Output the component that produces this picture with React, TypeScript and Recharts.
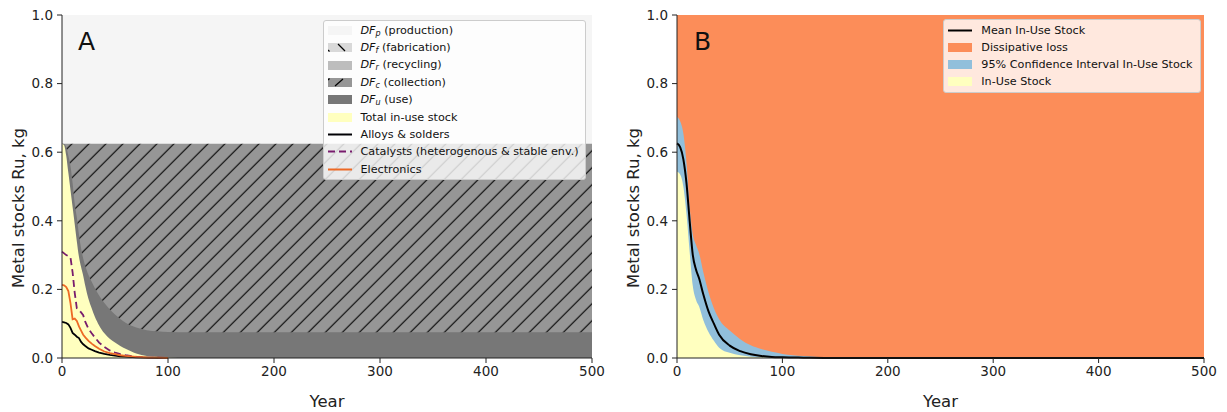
import React from "react";
import { ComposedChart, Area, Line, XAxis, YAxis } from "recharts";

const FONT = "DejaVu Sans";

// ---- Panel A: dissipation flows + in-use stock by sector ----
const yearsA = [0, 2, 4, 6, 8, 10, 12, 14, 16, 18, 20, 22, 25, 28, 31, 35, 40, 45, 50, 55, 60, 70, 80, 90, 100, 120, 150, 200, 300, 400, 500];
const productionTop = 1.0;
const collectionTop = 0.625;
const useTop = [0.625, 0.624, 0.615, 0.59, 0.56, 0.51, 0.45, 0.41, 0.36, 0.32, 0.29, 0.268, 0.242, 0.222, 0.203, 0.182, 0.16, 0.142, 0.127, 0.114, 0.103, 0.089, 0.081, 0.078, 0.076, 0.075, 0.075, 0.075, 0.075, 0.075, 0.075];
const inUseTotal = [0.625, 0.62, 0.59, 0.54, 0.49, 0.44, 0.39, 0.34, 0.295, 0.265, 0.24, 0.21, 0.172, 0.145, 0.12, 0.095, 0.072, 0.056, 0.045, 0.035, 0.027, 0.013, 0.006, 0.003, 0.001, 0, 0, 0, 0, 0, 0];
// sector lines end once they reach zero (hidden under the spine in the original)
const alloys = [0.105, 0.104, 0.102, 0.098, 0.088, 0.073, 0.068, 0.062, 0.058, 0.047, 0.04, 0.035, 0.028, 0.024, 0.02, 0.016, 0.012, 0.009, 0.007, 0.005, 0.004, 0.002, 0.001, 0.0005, 0, null, null, null, null, null, null];
const catalysts = [0.31, 0.305, 0.3, 0.297, 0.293, 0.25, 0.19, 0.145, 0.14, 0.133, 0.125, 0.105, 0.085, 0.072, 0.06, 0.045, 0.032, 0.022, 0.016, 0.011, 0.008, 0.004, 0.002, 0.001, 0, null, null, null, null, null, null];
const electronics = [0.213, 0.212, 0.207, 0.195, 0.16, 0.113, 0.115, 0.108, 0.092, 0.08, 0.068, 0.06, 0.05, 0.042, 0.035, 0.027, 0.019, 0.014, 0.011, 0.008, 0.006, 0.003, 0.0015, 0.001, 0, null, null, null, null, null, null];

// ---- Panel B: uncertainty of in-use stock ----
const yearsB = [0, 3, 6, 9, 12, 15, 18, 21, 25, 30, 35, 40, 50, 60, 70, 80, 90, 100, 120, 150, 200, 300, 400, 500];
const lossTop = 1.0;
const meanStock = [0.626, 0.615, 0.58, 0.51, 0.4, 0.3, 0.258, 0.232, 0.185, 0.135, 0.1, 0.068, 0.036, 0.02, 0.011, 0.006, 0.003, 0.002, 0.001, 0, 0, 0, 0, 0];
const upperCI = [0.703, 0.69, 0.655, 0.57, 0.44, 0.36, 0.33, 0.305, 0.25, 0.19, 0.145, 0.113, 0.08, 0.055, 0.037, 0.026, 0.018, 0.012, 0.006, 0.002, 0, 0, 0, 0];
const lowerCI = [0.543, 0.535, 0.5, 0.42, 0.31, 0.21, 0.17, 0.15, 0.11, 0.075, 0.05, 0.03, 0.015, 0.008, 0.004, 0.002, 0.001, 0, 0, 0, 0, 0, 0, 0];

const xTicks = [0, 100, 200, 300, 400, 500];
const yTicks = [0, 0.2, 0.4, 0.6, 0.8, 1.0];

const dataA = yearsA.map((year, i) => ({
  year,
  production: productionTop,
  collection: collectionTop,
  use: useTop[i],
  stock: inUseTotal[i],
  alloys: alloys[i],
  catalysts: catalysts[i],
  electronics: electronics[i],
}));

const dataB = yearsB.map((year, i) => ({
  year,
  loss: lossTop,
  upper: upperCI[i],
  lower: lowerCI[i],
  mean: meanStock[i],
}));

const C = {
  prod: "#f5f5f5",
  fab: "#d9d9d9",
  recyc: "#bdbdbd",
  coll: "#969696",
  use: "#777777",
  stock: "#ffffbf",
  alloys: "#000004",
  catalysts: "#781c6d",
  electronics: "#ed6925",
  loss: "#fc8d59",
  ci: "#91bfdb",
};

const tickStyle = { fill: "#222", fontSize: 13.5, fontFamily: FONT };

function axes(plotCenterX: number) {
  return [
    <XAxis
      key="x"
      dataKey="year"
      type="number"
      domain={[0, 500]}
      ticks={xTicks}
      height={54}
      tickSize={5}
      tickMargin={3}
      tick={tickStyle}
      stroke="#222"
      label={{
        content: () => (
          <text x={plotCenterX} y={407} textAnchor="middle" fontSize={16.5} fontFamily={FONT} fill="#222">
            Year
          </text>
        ),
      }}
    />,
    <YAxis
      key="y"
      type="number"
      domain={[0, 1]}
      ticks={yTicks}
      width={62}
      tickSize={5}
      tickMargin={4}
      tick={tickStyle}
      stroke="#222"
      tickFormatter={(v: number) => v.toFixed(1)}
      label={{
        content: () => (
          <text transform="translate(24,208) rotate(-90)" textAnchor="middle" fontSize={16.5} fontFamily={FONT} fill="#222">
            Metal stocks Ru, kg
          </text>
        ),
      }}
    />,
    <XAxis key="xt" xAxisId="top" orientation="top" type="number" domain={[0, 500]} tick={false} tickLine={false} height={0} stroke="#222" />,
    <YAxis key="yr" yAxisId="right" orientation="right" type="number" domain={[0, 1]} tick={false} tickLine={false} width={0} stroke="#222" />,
  ];
}

function Patch({ fill, hatch }: { fill: string; hatch?: string }) {
  return (
    <svg width={24} height={9} style={{ flex: "none" }}>
      <rect x={0} y={0} width={24} height={9} fill={fill} />
      {hatch === "/" && (
        <>
          <line x1={7} y1={8} x2={15} y2={1} stroke="#000" strokeWidth={1.2} />
          <line x1={0} y1={2} x2={1.5} y2={0.5} stroke="#000" strokeWidth={1.2} />
        </>
      )}
      {hatch === "back" && (
        <>
          <line x1={10} y1={1} x2={17} y2={8} stroke="#000" strokeWidth={1.2} />
          <line x1={0} y1={7} x2={1.5} y2={8.5} stroke="#000" strokeWidth={1.2} />
        </>
      )}
    </svg>
  );
}

function LineKey({ color, dashed }: { color: string; dashed?: boolean }) {
  return (
    <svg width={24} height={9} style={{ flex: "none" }}>
      <line x1={0} y1={4.5} x2={24} y2={4.5} stroke={color} strokeWidth={2} strokeDasharray={dashed ? "7 4" : undefined} />
    </svg>
  );
}

const DF = ({ s }: { s: string }) => (
  <span>
    <i>DF</i>
    <sub style={{ fontSize: 8, fontStyle: "italic", verticalAlign: "-2px" }}>{s}</sub>
  </span>
);

const legendBox: React.CSSProperties = {
  position: "absolute",
  background: "rgba(255,255,255,0.8)",
  border: "1px solid #cccccc",
  borderRadius: 3,
  boxSizing: "border-box",
  fontFamily: FONT,
  fontSize: 11.2,
  color: "#111",
};

function Row({ keyEl, children, h }: { keyEl: React.ReactNode; children: React.ReactNode; h: number }) {
  return (
    <div style={{ display: "flex", alignItems: "center", height: h, whiteSpace: "nowrap" }}>
      {keyEl}
      <span style={{ marginLeft: 9 }}>{children}</span>
    </div>
  );
}

export default function App() {
  return (
    <div style={{ position: "absolute", left: 0, top: 0, width: 1227, height: 412, background: "#fff" }}>
      <div style={{ position: "absolute", left: 0, top: 0 }}>
        <ComposedChart width={615} height={412} data={dataA} margin={{ top: 15, right: 23, bottom: 0, left: 0 }}>
          <defs>
            <pattern id="hatchC" patternUnits="userSpaceOnUse" x={11.7} y={0} width={17} height={17}>
              <rect width={17} height={17} fill={C.coll} />
              <path d="M0,17 L17,0 M-4,4 L4,-4 M13,21 L21,13" stroke="#000" strokeWidth={1.1} />
            </pattern>
          </defs>
          <Area type="linear" dataKey="production" stroke="none" fill={C.prod} fillOpacity={1} isAnimationActive={false} dot={false} activeDot={false} />
          <Area type="linear" dataKey="collection" stroke="none" fill="url(#hatchC)" fillOpacity={1} isAnimationActive={false} dot={false} activeDot={false} />
          <Area type="monotone" dataKey="use" stroke="none" fill={C.use} fillOpacity={1} isAnimationActive={false} dot={false} activeDot={false} />
          <Area type="monotone" dataKey="stock" stroke="none" fill={C.stock} fillOpacity={1} isAnimationActive={false} dot={false} activeDot={false} />
          <Line type="linear" dataKey="alloys" stroke={C.alloys} strokeWidth={1.8} dot={false} activeDot={false} isAnimationActive={false} />
          <Line type="linear" dataKey="catalysts" stroke={C.catalysts} strokeWidth={1.8} strokeDasharray="7 4" dot={false} activeDot={false} isAnimationActive={false} />
          <Line type="linear" dataKey="electronics" stroke={C.electronics} strokeWidth={1.8} dot={false} activeDot={false} isAnimationActive={false} />
          {axes(327)}
        </ComposedChart>
      </div>

      <div style={{ position: "absolute", left: 615, top: 0 }}>
        <ComposedChart width={612} height={412} data={dataB} margin={{ top: 15, right: 23, bottom: 0, left: 0 }}>
          <Area type="linear" dataKey="loss" stroke="none" fill={C.loss} fillOpacity={1} isAnimationActive={false} dot={false} activeDot={false} />
          <Area type="monotone" dataKey="upper" stroke="none" fill={C.ci} fillOpacity={1} isAnimationActive={false} dot={false} activeDot={false} />
          <Area type="monotone" dataKey="lower" stroke="none" fill={C.stock} fillOpacity={1} isAnimationActive={false} dot={false} activeDot={false} />
          <Line type="monotone" dataKey="mean" stroke="#000" strokeWidth={2} dot={false} activeDot={false} isAnimationActive={false} />
          {axes(325.5)}
        </ComposedChart>
      </div>

      <div style={{ position: "absolute", left: 78, top: 29, fontFamily: FONT, fontSize: 25, lineHeight: "25px", color: "#111" }}>A</div>
      <div style={{ position: "absolute", left: 694, top: 29, fontFamily: FONT, fontSize: 25, lineHeight: "25px", color: "#111" }}>B</div>

      <div style={{ ...legendBox, left: 323, top: 20, width: 263, height: 160, paddingTop: 1, paddingLeft: 3.5 }}>
        <Row h={17.3} keyEl={<Patch fill={C.prod} />}><DF s="p" /> (production)</Row>
        <Row h={17.3} keyEl={<Patch fill={C.fab} hatch="back" />}><DF s="f" /> (fabrication)</Row>
        <Row h={17.3} keyEl={<Patch fill={C.recyc} />}><DF s="r" /> (recycling)</Row>
        <Row h={17.3} keyEl={<Patch fill={C.coll} hatch="/" />}><DF s="c" /> (collection)</Row>
        <Row h={17.3} keyEl={<Patch fill={C.use} />}><DF s="u" /> (use)</Row>
        <Row h={17.3} keyEl={<Patch fill={C.stock} />}>Total in-use stock</Row>
        <Row h={17.3} keyEl={<LineKey color={C.alloys} />}>Alloys &amp; solders</Row>
        <Row h={17.3} keyEl={<LineKey color={C.catalysts} dashed />}>Catalysts (heterogenous &amp; stable env.)</Row>
        <Row h={17.3} keyEl={<LineKey color={C.electronics} />}>Electronics</Row>
      </div>

      <div style={{ ...legendBox, left: 943, top: 19, width: 258, height: 74, paddingTop: 1.5, paddingLeft: 4.3 }}>
        <Row h={17} keyEl={<LineKey color="#000" />}>Mean In-Use Stock</Row>
        <Row h={17} keyEl={<Patch fill={C.loss} />}>Dissipative loss</Row>
        <Row h={17} keyEl={<Patch fill={C.ci} />}>95% Confidence Interval In-Use Stock</Row>
        <Row h={17} keyEl={<Patch fill={C.stock} />}>In-Use Stock</Row>
      </div>
    </div>
  );
}
